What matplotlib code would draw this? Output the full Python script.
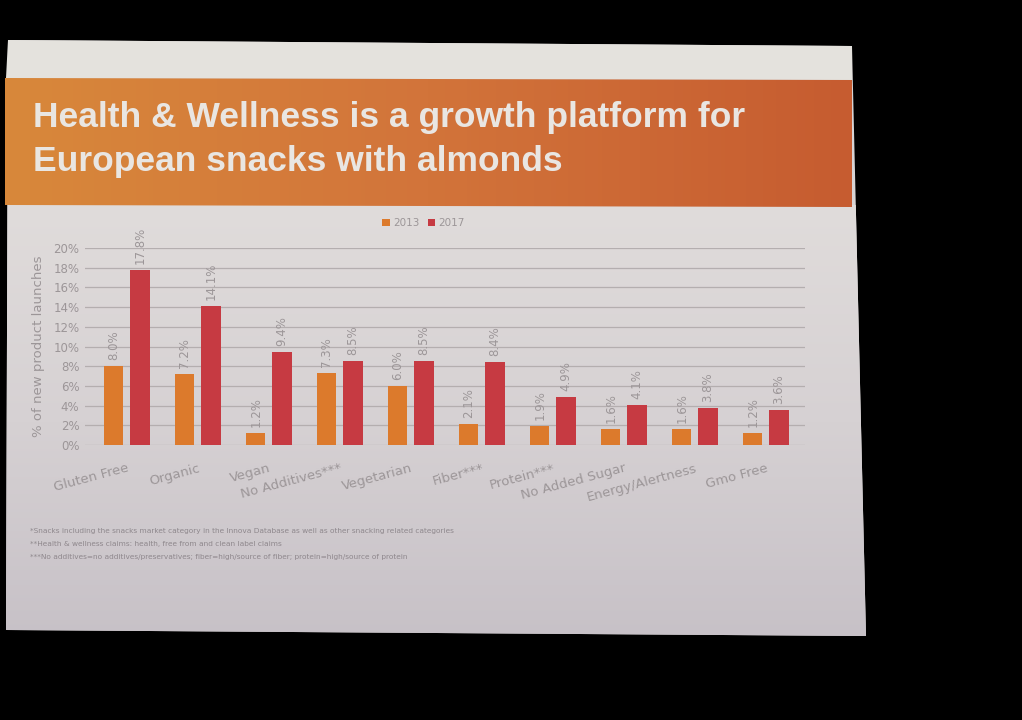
import numpy as np
import matplotlib
matplotlib.use("Agg")
import matplotlib.pyplot as plt
from matplotlib.patches import Polygon

categories = ["Gluten Free", "Organic", "Vegan", "No Additives***", "Vegetarian",
              "Fiber***", "Protein***", "No Added Sugar", "Energy/Alertness", "Gmo Free"]
vals_2013 = [8.0, 7.2, 1.2, 7.3, 6.0, 2.1, 1.9, 1.6, 1.6, 1.2]
vals_2017 = [17.8, 14.1, 9.4, 8.5, 8.5, 8.4, 4.9, 4.1, 3.8, 3.6]
yticks = [0, 2, 4, 6, 8, 10, 12, 14, 16, 18, 20]
footnotes = [
    "*Snacks including the snacks market category in the Innova Database as well as other snacking related categories",
    "**Health & wellness claims: health, free from and clean label claims",
    "***No additives=no additives/preservatives; fiber=high/source of fiber; protein=high/source of protein",
]

c2013 = "#DC7A2C"
c2017 = "#C63A42"
txt_gray = "#9C9698"

W, H = 1022, 720
fig = plt.figure(figsize=(W / 100, H / 100), dpi=100, facecolor="black")

# fond: la diapositive projetee, en pixels
bg = fig.add_axes([0, 0, 1, 1])
bg.set_xlim(0, W)
bg.set_ylim(H, 0)
bg.axis("off")
bg.set_facecolor("black")

slide = Polygon([(8, 40), (852, 46), (866, 636), (6, 630)], closed=True,
                facecolor="#D8D4D5", edgecolor="none")
bg.add_patch(slide)
grad = np.linspace(0, 1, 200)[:, None]
im = bg.imshow(grad, extent=(0, W, 640, 205), cmap=matplotlib.colors.LinearSegmentedColormap.from_list(
    "fond", ["#E0DCDB", "#D6D1D3", "#C7C1C7"]), aspect="auto", zorder=1)
im.set_clip_path(slide)
bg.add_patch(Polygon([(8, 40), (852, 46), (852, 80), (6, 78)], closed=True,
                     facecolor="#E4E2DD", edgecolor="none", zorder=2))
band = Polygon([(5, 78), (852, 80), (852, 207), (5, 205)], closed=True,
               facecolor="none", edgecolor="none", zorder=2)
bg.add_patch(band)
hgrad = np.linspace(0, 1, 200)[None, :]
im2 = bg.imshow(hgrad, extent=(5, 852, 207, 78), aspect="auto", zorder=2,
                cmap=matplotlib.colors.LinearSegmentedColormap.from_list(
                    "bande", ["#D8883A", "#D2743A", "#C65C30"]))
im2.set_clip_path(band)

bg.text(33, 118, "Health & Wellness is a growth platform for", color="#E9E6E2",
        fontsize=25.5, fontweight="bold", family="Liberation Sans", va="center", zorder=3)
bg.text(33, 162, "European snacks with almonds", color="#E9E6E2",
        fontsize=25.5, fontweight="bold", family="Liberation Sans", va="center", zorder=3)

for i, line in enumerate(footnotes):
    bg.text(30, 531 + i * 13, line, color="#8E878C", fontsize=5.3, va="center", zorder=3)

# le graphique
ax = fig.add_axes([85 / W, 1 - 445 / H, 720 / W, 197 / H])
ax.patch.set_alpha(0)
x = np.arange(len(categories))
w = 0.27
off = 0.185
b1 = ax.bar(x - off, vals_2013, w, color=c2013, label="2013", zorder=3)
b2 = ax.bar(x + off, vals_2017, w, color=c2017, label="2017", zorder=3)
for bars, vals in [(b1, vals_2013), (b2, vals_2017)]:
    for r, v in zip(bars, vals):
        ax.text(r.get_x() + r.get_width() / 2, v + 0.6, f"{v:.1f}%", rotation=90,
                ha="center", va="bottom", fontsize=8.5, color=txt_gray, clip_on=False)

ax.set_xlim(-0.59, 9.55)
ax.set_ylim(0, 20)
ax.set_yticks(yticks)
ax.set_yticklabels([f"{t}%" for t in yticks], fontsize=8.5, color=txt_gray)
ax.yaxis.grid(True, color="#B4AEAF", linewidth=0.9, zorder=0)
ax.set_axisbelow(True)
for s in ax.spines.values():
    s.set_visible(False)
ax.tick_params(axis="both", length=0, pad=4)
ax.set_xticks(x)
ax.set_xticklabels(categories, rotation=15, ha="right", rotation_mode="anchor",
                   fontsize=9.5, color=txt_gray)
ax.tick_params(axis="x", pad=12)
ax.set_ylabel("% of new product launches", fontsize=9.5, color=txt_gray, labelpad=6)

ax.legend(loc="upper center", bbox_to_anchor=(0.47, 1.2), ncol=2, frameon=False,
          fontsize=7.5, handlelength=0.7, handleheight=0.7, handletextpad=0.3,
          columnspacing=0.8, labelcolor=txt_gray)

fig.savefig("out.png", dpi=100, facecolor="black")
